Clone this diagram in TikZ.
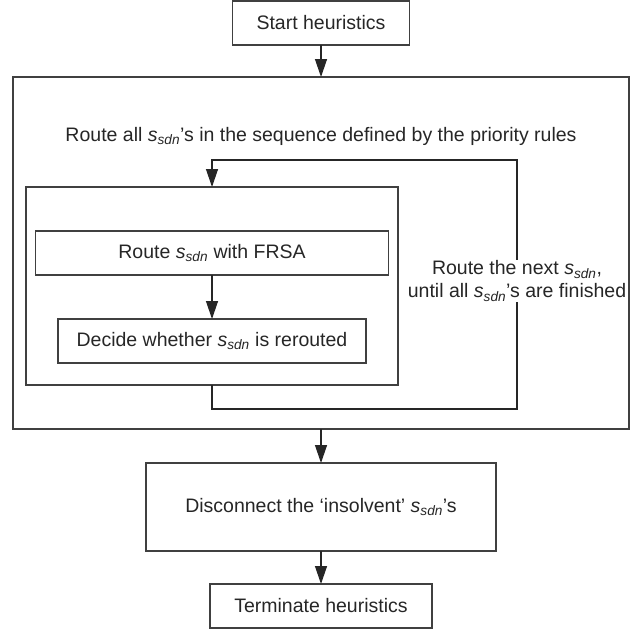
\documentclass[tikz,border=0pt]{standalone}
\usepackage{fontspec}
\setmainfont{Liberation Sans}
\usetikzlibrary{positioning,arrows.meta}
\newcommand{\ssdn}{\textit{s}\textsubscript{\textit{sdn}}}
\tikzset{
  box/.style={draw=black!75, line width=1.3pt, inner sep=0pt, outer sep=0pt,
    minimum height=44pt, font=\fontsize{19.5}{23}\selectfont, text=black!85},
  txt/.style={inner sep=1pt, font=\fontsize{19.5}{23}\selectfont, text=black!85},
  flow/.style={line width=1.3pt, draw=black!85, -{Triangle[length=18pt,width=12pt]}},
  line/.style={line width=1.3pt, draw=black!85}
}
\begin{document}
\begin{tikzpicture}[x=1pt,y=-1pt]
  \useasboundingbox (0,0) rectangle (644,632);
  \node[box, minimum width=177pt] (start) at (321,23) {Start heuristics};
  \node[box, minimum width=616pt, minimum height=352pt, below=32pt of start] (outer) {};
  \node[txt] (title) at (321,136) {Route all \ssdn’s in the sequence defined by the priority rules};
  \node[box, minimum width=372pt, minimum height=198pt] (inner) at (212,286) {};
  \node[box, minimum width=353pt, below=44pt of inner.north] (frsa) {Route \ssdn{} with FRSA};
  \node[box, minimum width=308pt, below=44pt of frsa] (decide) {Decide whether \ssdn{} is rerouted};
  \node[box, minimum width=350pt, minimum height=88pt, below=34pt of outer] (disc) {Disconnect the ‘insolvent’ \ssdn’s};
  \node[box, minimum width=222pt, below=33pt of disc] (term) {Terminate heuristics};
  \coordinate (loopbr) at (517,409);
  \coordinate (looptop) at (212,160);
  \draw[flow] (start) -- (outer);
  \draw[flow] (frsa) -- (decide);
  \draw[flow] (inner.south) |- (loopbr) |- (looptop) -- (inner.north);
  \node[txt, fill=white, align=center] (next) at (517,281) {Route the next \ssdn,\\until all \ssdn’s are finished};
  \draw[flow] (outer) -- (disc);
  \draw[flow] (disc) -- (term);
\end{tikzpicture}
\end{document}
